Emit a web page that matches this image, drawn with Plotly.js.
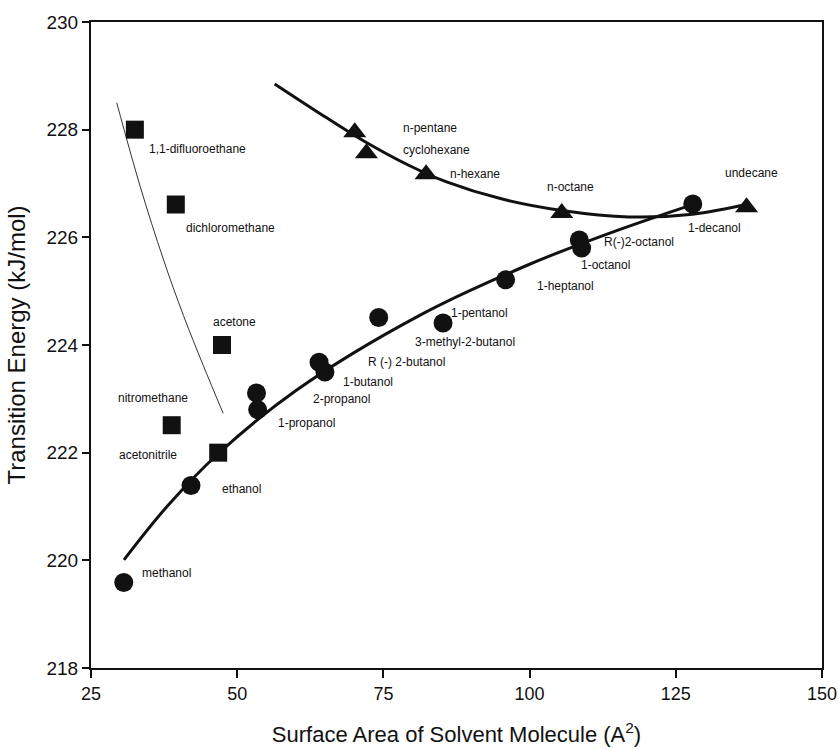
<!DOCTYPE html>
<html>
<head>
<meta charset="utf-8">
<script src="https://cdn.plot.ly/plotly-3.0.1.min.js"></script>
<style>html,body{margin:0;padding:0;background:#fff;}#chart{width:839px;height:749px;}</style>
</head>
<body>
<div id="chart"></div>
<script>
// Non-alcohol polar solvents (squares)
const squareX = [32.5, 39.5, 47.4, 38.8, 46.75];
const squareY = [228.0, 226.61, 224.0, 222.51, 222.0];

// Alcohols (circles)
const circleX = [30.6, 42.1, 53.3, 53.5, 64.0, 65.0, 74.2, 85.2, 95.9, 108.5, 108.9, 127.9];
const circleY = [219.59, 221.39, 223.11, 222.80, 223.68, 223.50, 224.51, 224.41, 225.21, 225.95, 225.80, 226.62];

// Alkanes (triangles)
const triX = [70.1, 72.1, 82.3, 105.5, 137.1];
const triY = [227.95, 227.56, 227.17, 226.45, 226.56];

// Fitted curves
const thinX = [29.4, 33.4, 37.35, 40.8, 44.2, 47.6];
const thinY = [228.5, 226.95, 225.6, 224.55, 223.62, 222.73];

const alcFitX = [30.64, 38.0, 46.75, 60.0, 81.2, 100.0, 115.0, 129.3];
const alcFitY = [220.01, 221.0, 221.98, 223.15, 224.55, 225.5, 226.13, 226.66];

const alkFitX = [56.4, 65.3, 71.5, 79.5, 85.8, 95.0, 105.5, 117.0, 127.9, 137.3];
const alkFitY = [228.85, 228.22, 227.8, 227.33, 227.03, 226.72, 226.5, 226.38, 226.43, 226.62];

// Point labels
const labelText = ["1,1-difluoroethane", "dichloromethane", "acetone", "nitromethane", "acetonitrile",
  "ethanol", "methanol", "1-propanol", "2-propanol", "1-butanol", "R (-) 2-butanol",
  "3-methyl-2-butanol", "1-pentanol", "1-heptanol", "1-octanol", "R(-)2-octanol", "1-decanol",
  "undecane", "n-octane", "n-hexane", "cyclohexane", "n-pentane"];
const labelX = [34.5, 40.9, 45.6, 29.3, 29.4, 47.0, 33.3, 56.6, 62.7, 67.8, 72.0,
  80.0, 86.2, 100.9, 108.4, 112.4, 126.8, 133.1, 102.6, 86.1, 78.0, 78.0];
const labelY = [227.64, 226.18, 224.42, 223.01, 221.96, 221.32, 219.77, 222.55, 222.99, 223.31, 223.68,
  224.06, 224.6, 225.1, 225.48, 225.92, 226.18, 227.2, 226.93, 227.17, 227.62, 228.03];

const xTicks = [25, 50, 75, 100, 125, 150];
const yTicks = [218, 220, 222, 224, 226, 228, 230];

const FONT = "Liberation Sans, Arial, Helvetica, sans-serif";

const traces = [
  {x: thinX, y: thinY, mode: "lines", line: {color: "#333", width: 1, shape: "spline", smoothing: 1}, hoverinfo: "skip"},
  {x: alcFitX, y: alcFitY, mode: "lines", line: {color: "#111", width: 3, shape: "spline", smoothing: 1}, hoverinfo: "skip"},
  {x: alkFitX, y: alkFitY, mode: "lines", line: {color: "#111", width: 3, shape: "spline", smoothing: 1}, hoverinfo: "skip"},
  {x: squareX, y: squareY, mode: "markers", marker: {symbol: "square", size: 18, color: "#111"}},
  {x: circleX, y: circleY, mode: "markers", marker: {symbol: "circle", size: 19, color: "#111"}},
  {x: triX, y: triY, mode: "markers", marker: {symbol: "triangle-up", size: 20, color: "#111"}}
];

const annotations = labelText.map((t, i) => ({
  x: labelX[i], y: labelY[i], xref: "x", yref: "y", text: t, showarrow: false,
  xanchor: "left", yanchor: "middle", font: {family: FONT, size: 12, color: "#111"}
}));

const layout = {
  width: 839, height: 749,
  margin: {l: 91, r: 17, t: 22, b: 81},
  paper_bgcolor: "#fff", plot_bgcolor: "#fff",
  showlegend: false,
  font: {family: FONT, color: "#111"},
  xaxis: {
    range: [25, 150], tickvals: xTicks, ticktext: xTicks.map(String),
    showgrid: false, zeroline: false,
    showline: true, linecolor: "#111", linewidth: 2, mirror: true,
    ticks: "outside", ticklen: 8, tickwidth: 2, tickcolor: "#111",
    tickfont: {family: FONT, size: 18, color: "#111"},
    title: {text: "Surface Area of Solvent Molecule (A<sup>2</sup>)", font: {family: FONT, size: 22, color: "#111"}, standoff: 24}
  },
  yaxis: {
    range: [218, 230], tickvals: yTicks, ticktext: yTicks.map(String),
    showgrid: false, zeroline: false,
    showline: true, linecolor: "#111", linewidth: 2, mirror: true,
    ticks: "outside", ticklen: 7, tickwidth: 2, tickcolor: "#111",
    tickfont: {family: FONT, size: 19, color: "#111"},
    title: {text: "Transition Energy (kJ/mol)", font: {family: FONT, size: 24, color: "#111"}, standoff: 14}
  },
  annotations: annotations
};

Plotly.newPlot("chart", traces, layout, {staticPlot: true, displayModeBar: false});
</script>
</body>
</html>
